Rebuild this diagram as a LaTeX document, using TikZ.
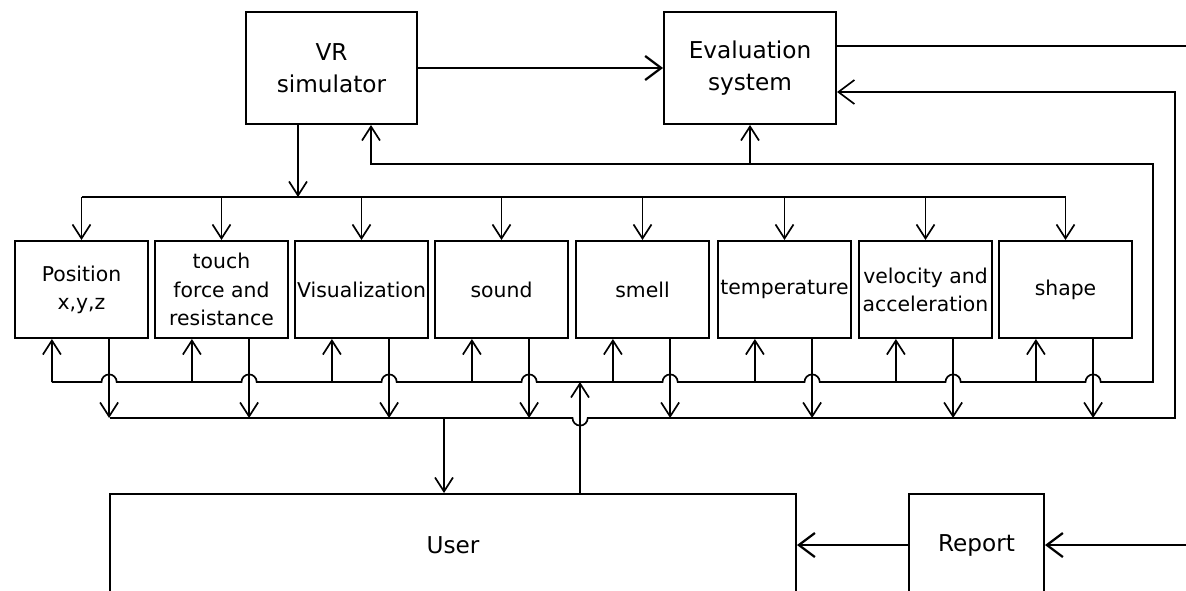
\documentclass[tikz,border=0pt]{standalone}
\usepackage{fontspec}
\setmainfont{DejaVu Sans}
\usetikzlibrary{arrows.meta}

\begin{document}
\begin{tikzpicture}[x=0.25mm, y=0.25mm,
		box/.style={draw, line width=1.4pt, align=center, inner sep=0pt, font=\fontsize{16.5}{23}\selectfont},
		sense/.style={box, minimum width=33.25mm, minimum height=24.25mm, font=\fontsize{14.5}{20}\selectfont},
		wire/.style={line width=1.2pt},
		arr/.style={wire, -{Straight Barb[length=3.5mm, width=4.5mm]}},
		bigarr/.style={line width=1.6pt, -{Straight Barb[length=4mm, width=6mm]}}]
		\useasboundingbox (0,0) rectangle (1186,-590);
		\clip (0,0) rectangle (1186,-590);
		% top row
		\node [box, minimum width=42.75mm, minimum height=28mm] (vr) at (331.5,-68) {VR\\simulator};
		\node [box, minimum width=43mm, minimum height=28mm] (eval) at (750,-68) {Evaluation\\system};
		% channels
		\node [sense] (pos) at (81.5,-289.5) {Position\\x,y,z};
		\node [sense] (touch) at (221.5,-289.5) {touch\\force and\\resistance};
		\node [sense] (vis) at (361.5,-289.5) {Visualization};
		\node [sense] (sound) at (501.5,-289.5) {sound};
		\node [sense] (smell) at (642.5,-289.5) {smell};
		\node [sense] (temp) at (784.5,-289.5) {temperature};
		\node [sense] (vel) at (925.5,-289.5) {velocity and\\acceleration};
		\node [sense] (shape) at (1065.5,-289.5) {shape};
		% bottom row
		\node [box, minimum width=171.5mm, minimum height=25.5mm] (user) at (453,-545) {User};
		\node [box, minimum width=33.75mm, minimum height=25.5mm] (report) at (976.5,-545) {Report};
		% bus corners
		\coordinate (split) at (298,-197);
		\coordinate (vrback) at (371,-164);
		\coordinate (fb) at (1153,-164);
		\coordinate (midE) at (1153,-382);
		\coordinate (lowW) at (110,-418);
		\coordinate (lowE) at (1175,-418);
		\coordinate (hop) at (572.5,-418);
		\coordinate (touser) at (444,-418);
		\coordinate (fromuser) at (580,-382);
		\coordinate (evin) at (1175,-92);
		\coordinate (toout) at (1186,-46);
		\coordinate (repin) at (1186,-545);
		% VR out to the channels
		\draw [bigarr] (vr) -- (eval);
		\draw [wire] (eval.east |- toout) -- (toout);
		\draw [arr] (split |- vr.south) -- (split);
		\draw [wire] (pos.north |- split) -- (shape.north |- split);
		\foreach \n in {pos,touch,vis,sound,smell,temp,vel,shape}{
			\path (\n.south) ++(-7.4mm,0mm) coordinate (\n-up) ++(14.3mm,0mm) coordinate (\n-dn) ++(-1.9mm,0mm) coordinate (\n-hop);
			\draw [arr] (\n.north |- split) -- (\n.north);
			\draw [arr] (\n-up |- midE) -- (\n-up);
			\draw [arr] (\n-dn) -- (\n-dn |- lowW);
		}
		% feedback bus
		\draw [arr] (pos-up |- midE) \foreach \n in {pos,touch,vis,sound,smell,temp,vel,shape}{ -- (\n-hop |- midE) arc[start angle=180, end angle=0, radius=1.9mm] } -- (midE) -- (fb) -- (vrback) -- (vrback |- vr.south);
		\draw [arr] (eval.south |- fb) -- (eval.south);
		% to the user
		\draw [wire, -{Straight Barb[length=4mm, width=6mm]}] (lowW) -- (hop) arc[start angle=180, end angle=360, radius=1.9mm] -- (lowE) |- (eval.east |- evin);
		\draw [arr] (touser) -- (touser |- user.north);
		\draw [arr] (fromuser |- user.north) -- (fromuser);
		\draw [bigarr] (repin) -- (report);
		\draw [bigarr] (report) -- (user);
	\end{tikzpicture}
\end{document}
